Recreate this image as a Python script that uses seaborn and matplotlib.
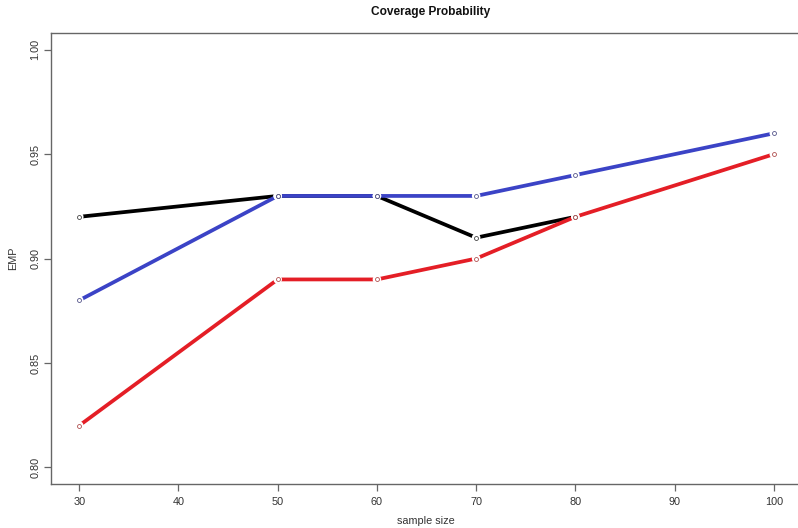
import matplotlib
matplotlib.use("Agg")
import matplotlib.pyplot as plt
import seaborn as sns
import pandas as pd
import numpy as np

sample_size = [30, 50, 60, 70, 80, 100]
emp_black = [0.92, 0.93, 0.93, 0.91, 0.92, np.nan]
emp_blue = [0.88, 0.93, 0.93, 0.93, 0.94, 0.96]
emp_red = [0.82, 0.89, 0.89, 0.90, 0.92, 0.95]
series_names = ["black", "blue", "red"]
x_ticks = [30, 40, 50, 60, 70, 80, 90, 100]
y_ticks = [0.80, 0.85, 0.90, 0.95, 1.00]

rows = []
for name, vals in zip(series_names, [emp_black, emp_blue, emp_red]):
    for s, v in zip(sample_size, vals):
        if not np.isnan(v):
            rows.append({"sample size": s, "EMP": v, "series": name})
df = pd.DataFrame(rows)

palette = {"black": "#000000", "blue": "#3b43c6", "red": "#e41e26"}
mk_color = {"black": "#444444", "blue": "#55558a", "red": "#b05050"}

sns.set_style("white")
plt.rcParams["font.family"] = ["Liberation Sans", "DejaVu Sans"]

fig = plt.figure(figsize=(7.98, 5.28), dpi=100)
ax = fig.add_axes([0.0645, 0.0833, 0.94, 0.854])

for name in series_names:
    sub = df[df["series"] == name]
    sns.lineplot(data=sub, x="sample size", y="EMP", color=palette[name],
                 linewidth=2.7, ax=ax, legend=False, zorder=2,
                 solid_capstyle="butt")
    # white halo to create the gap of R's type="b"
    ax.scatter(sub["sample size"], sub["EMP"], s=38, color="white",
               edgecolor="none", zorder=3)

for name in series_names:
    sub = df[df["series"] == name]
    ax.scatter(sub["sample size"], sub["EMP"], s=8, facecolor="white",
               edgecolor=mk_color[name], linewidth=0.6, zorder=4)

ax.set_xlim(27.2, 102.8)
ax.set_ylim(0.792, 1.008)
ax.set_xticks(x_ticks)
ax.set_xticklabels([str(t) for t in x_ticks])
ax.set_yticks(y_ticks)
ax.set_yticklabels([f"{t:.2f}" for t in y_ticks], rotation=90, va="center")

for sp in ax.spines.values():
    sp.set_color("#666666")
    sp.set_linewidth(1.0)

ax.tick_params(axis="both", which="major", direction="out", length=5,
               width=0.9, color="#666666", labelsize=7.8, labelcolor="#333333",
               bottom=True, left=True)
ax.tick_params(axis="x", pad=4)
ax.tick_params(axis="y", pad=3)

ax.set_xlabel("")
ax.set_ylabel("")
fig.text(0.534, 1 - 521 / 528, "sample size", ha="center", va="center",
         fontsize=7.8, color="#333333")
fig.text(13 / 798, 1 - 258 / 528, "EMP", ha="center", va="center",
         rotation=90, fontsize=7.8, color="#333333")
fig.text(0.540, 1 - 12 / 528, "Coverage Probability", ha="center", va="center",
         fontsize=8.6, fontweight="bold", color="#111111")

fig.savefig("out.png", dpi=100, facecolor="white")
